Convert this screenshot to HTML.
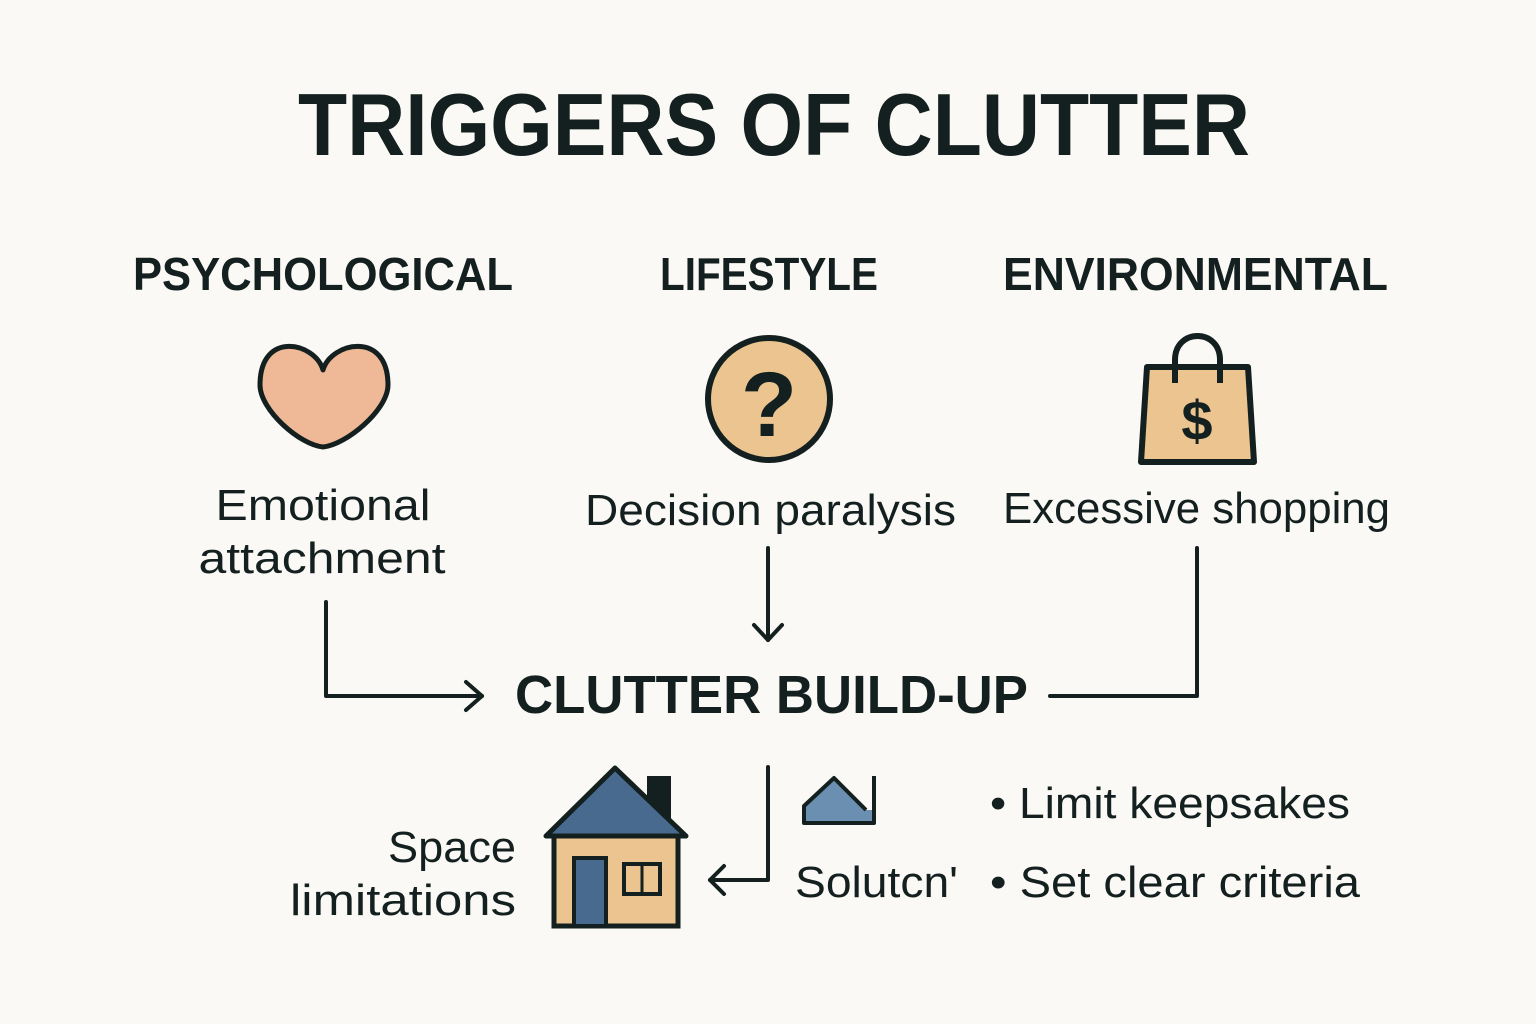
<!DOCTYPE html>
<html><head><meta charset="utf-8"><style>
html,body{margin:0;padding:0;background:#fbf9f5;}
svg{display:block;}
text{font-family:"Liberation Sans","DejaVu Sans",sans-serif;fill:#13201f;}
</style></head><body>
<svg width="1536" height="1024" viewBox="0 0 1536 1024" xmlns="http://www.w3.org/2000/svg">
<rect width="1536" height="1024" fill="#fbf9f5"/>
<text x="298" y="155" font-size="88" font-weight="bold" textLength="952" lengthAdjust="spacingAndGlyphs">TRIGGERS OF CLUTTER</text>
<text x="133" y="290" font-size="46" font-weight="bold" textLength="380" lengthAdjust="spacingAndGlyphs">PSYCHOLOGICAL</text>
<text x="660" y="290" font-size="46" font-weight="bold" textLength="218" lengthAdjust="spacingAndGlyphs">LIFESTYLE</text>
<text x="1003" y="290" font-size="46" font-weight="bold" textLength="385" lengthAdjust="spacingAndGlyphs">ENVIRONMENTAL</text>

<!-- heart -->
<path d="M323,370 C315,342 260,330 260,385 C260,410 300,445 323,447 C346,445 388,410 388,385 C388,330 331,342 323,370 Z" fill="#efb896" stroke="#13201f" stroke-width="5" stroke-linejoin="round"/>
<!-- question -->
<circle cx="769" cy="399" r="61" fill="#ebc48f" stroke="#13201f" stroke-width="6"/>
<text x="769" y="436" font-size="92" font-weight="bold" text-anchor="middle">?</text>
<!-- bag -->
<path d="M1175,386 L1175,360 C1175,328 1220,328 1220,360 L1220,386" fill="none" stroke="#13201f" stroke-width="6"/>
<path d="M1147,367 L1248,367 L1254,462 L1141,462 Z" fill="#ebc48f" stroke="#13201f" stroke-width="6" stroke-linejoin="round"/>
<path d="M1175,367 L1175,383 M1220,367 L1220,383" stroke="#13201f" stroke-width="6"/>
<text x="1197" y="440" font-size="56" font-weight="bold" text-anchor="middle">$</text>

<text x="323" y="520" font-size="44" text-anchor="middle" textLength="215" lengthAdjust="spacingAndGlyphs">Emotional</text>
<text x="322" y="573" font-size="44" text-anchor="middle" textLength="247" lengthAdjust="spacingAndGlyphs">attachment</text>
<text x="585" y="525" font-size="44" textLength="371" lengthAdjust="spacingAndGlyphs">Decision paralysis</text>
<text x="1003" y="523" font-size="44" textLength="387" lengthAdjust="spacingAndGlyphs">Excessive shopping</text>

<g fill="none" stroke="#13201f" stroke-width="4" stroke-linecap="round" stroke-linejoin="round">
<path d="M326,602 L326,696 L482,696"/>
<path d="M466,682 L482,696 L466,710"/>
<path d="M768,548 L768,640"/>
<path d="M754,625 L768,640 L782,625"/>
<path d="M1197,548 L1197,696 L1050,696"/>
<path d="M768,767 L768,880 L710,880"/>
<path d="M724,866 L710,880 L724,894"/>
</g>
<text x="515" y="713" font-size="54" font-weight="bold" textLength="513" lengthAdjust="spacingAndGlyphs">CLUTTER BUILD-UP</text>

<!-- house -->
<rect x="554" y="836" width="124" height="90" fill="#ebc48f" stroke="#13201f" stroke-width="5"/>
<rect x="647" y="776" width="24" height="50" fill="#13201f"/>
<path d="M546,836 L615,768 L686,836 Z" fill="#486a8e" stroke="#13201f" stroke-width="5" stroke-linejoin="round"/>
<rect x="574" y="858" width="32" height="68" fill="#486a8e" stroke="#13201f" stroke-width="4"/>
<rect x="624" y="864" width="36" height="30" fill="#ebc48f" stroke="#13201f" stroke-width="4"/>
<path d="M642,864 L642,894" stroke="#13201f" stroke-width="3"/>
<!-- small roof -->
<path d="M804,806 L834,778 L866,810 L874,810 L874,823 L804,823 Z" fill="#6b8fb0"/>
<path d="M874,776 L874,823 L804,823 L804,806 L834,778 L866,810" fill="none" stroke="#13201f" stroke-width="4" stroke-linejoin="round"/>

<text x="516" y="862" font-size="44" text-anchor="end" textLength="128" lengthAdjust="spacingAndGlyphs">Space</text>
<text x="516" y="915" font-size="44" text-anchor="end" textLength="226" lengthAdjust="spacingAndGlyphs">limitations</text>
<text x="795" y="897" font-size="44" textLength="163" lengthAdjust="spacingAndGlyphs">Solutcn'</text>
<text x="990" y="818" font-size="44" textLength="360" lengthAdjust="spacingAndGlyphs">• Limit keepsakes</text>
<text x="990" y="897" font-size="44" textLength="370" lengthAdjust="spacingAndGlyphs">• Set clear criteria</text>
</svg>
</body></html>
